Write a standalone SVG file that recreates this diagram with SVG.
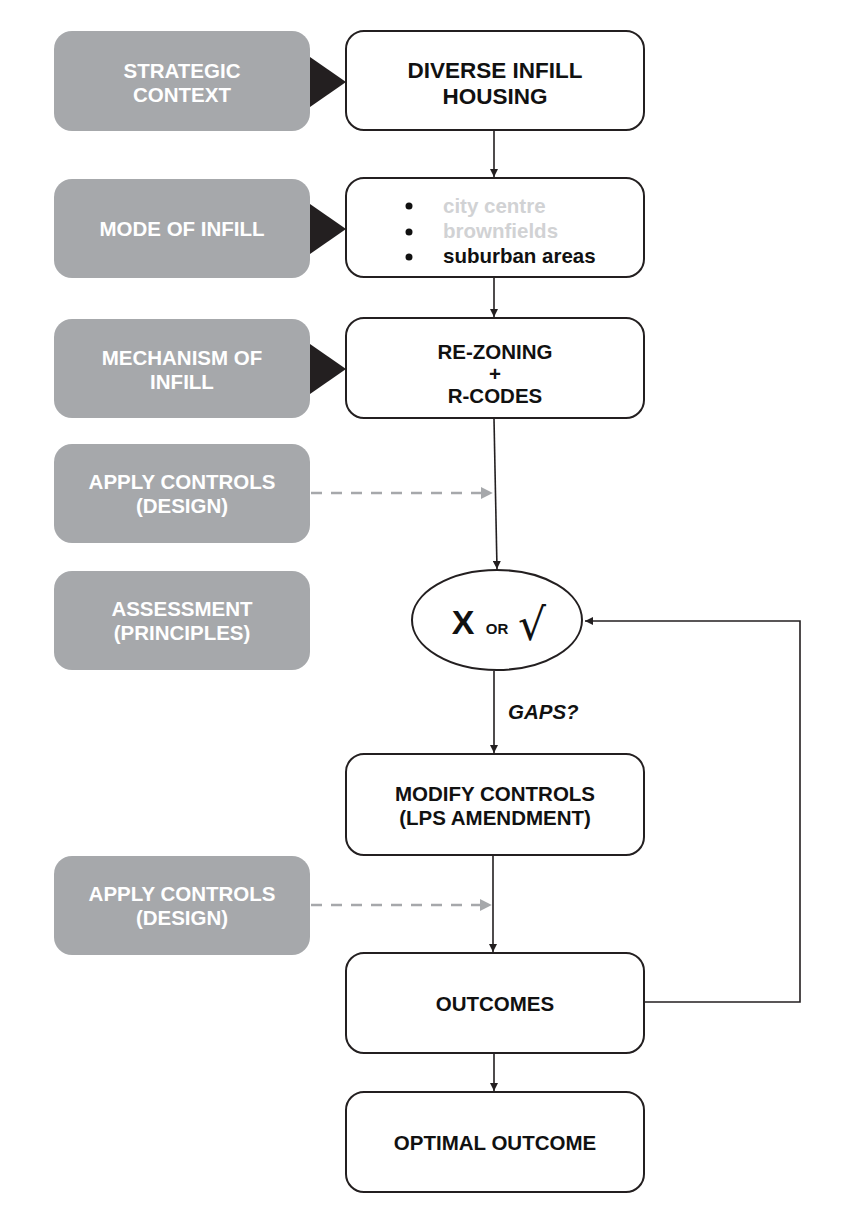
<svg xmlns="http://www.w3.org/2000/svg" width="857" height="1230" viewBox="0 0 857 1230">
<defs>
<style>
.g{fill:#a6a8ab;}
.w{fill:#fff;stroke:#231f20;stroke-width:2;}
.gt{font-family:"Liberation Sans",Arial,sans-serif;font-weight:bold;font-size:20.5px;fill:#fff;text-anchor:middle;}
.bt{font-family:"Liberation Sans",Arial,sans-serif;font-weight:bold;font-size:20.5px;fill:#111;text-anchor:middle;}
.lt{font-family:"Liberation Sans",Arial,sans-serif;font-weight:bold;font-size:20.5px;}
.ln{stroke:#231f20;stroke-width:1.6;fill:none;}
.ds{stroke:#a6a8ab;stroke-width:2.5;stroke-dasharray:11 9;fill:none;}
</style>
<marker id="ar" viewBox="0 0 10 10" refX="10" refY="5" markerWidth="8" markerHeight="8" markerUnits="userSpaceOnUse" orient="auto"><path d="M0,0 L10,5 L0,10 z" fill="#231f20"/></marker>
<marker id="ag" viewBox="0 0 10 10" refX="6" refY="5" markerWidth="12" markerHeight="12" markerUnits="userSpaceOnUse" orient="auto"><path d="M0,0 L10,5 L0,10 z" fill="#a6a8ab"/></marker>
</defs>
<rect width="857" height="1230" fill="#fff"/>

<g id="connectors">
<line class="ln" x1="494" y1="131" x2="494" y2="177" marker-end="url(#ar)"/>
<line class="ln" x1="494" y1="278" x2="494" y2="317" marker-end="url(#ar)"/>
<line class="ln" x1="494" y1="419" x2="497" y2="569" marker-end="url(#ar)"/>
<line class="ln" x1="494" y1="671" x2="494" y2="753" marker-end="url(#ar)"/>
<line class="ln" x1="493" y1="856" x2="493" y2="952" marker-end="url(#ar)"/>
<line class="ln" x1="494" y1="1054" x2="494" y2="1091" marker-end="url(#ar)"/>
<polyline class="ln" points="645,1002 800,1002 800,621 585,621" marker-end="url(#ar)"/>
<line class="ds" x1="311" y1="493" x2="488" y2="493" marker-end="url(#ag)"/>
<line class="ds" x1="311" y1="905" x2="487" y2="905" marker-end="url(#ag)"/>
<polygon points="310,57 346,82 310,107" fill="#231f20"/>
<polygon points="310,204 346,229 310,254" fill="#231f20"/>
<polygon points="310,344 346,369 310,394" fill="#231f20"/>
</g>

<g id="strategic-context">
<rect class="g" x="54" y="31" width="256" height="100" rx="18"/>
<text class="gt" x="182" y="78">STRATEGIC</text>
<text class="gt" x="182" y="102">CONTEXT</text>
</g>
<g id="mode-of-infill">
<rect class="g" x="54" y="179" width="256" height="99" rx="18"/>
<text class="gt" x="182" y="236">MODE OF INFILL</text>
</g>
<g id="mechanism-of-infill">
<rect class="g" x="54" y="319" width="256" height="99" rx="18"/>
<text class="gt" x="182" y="365">MECHANISM OF</text>
<text class="gt" x="182" y="389">INFILL</text>
</g>
<g id="apply-controls-1">
<rect class="g" x="54" y="444" width="256" height="99" rx="18"/>
<text class="gt" x="182" y="489">APPLY CONTROLS</text>
<text class="gt" x="182" y="513">(DESIGN)</text>
</g>
<g id="assessment">
<rect class="g" x="54" y="571" width="256" height="99" rx="18"/>
<text class="gt" x="182" y="616">ASSESSMENT</text>
<text class="gt" x="182" y="640">(PRINCIPLES)</text>
</g>
<g id="apply-controls-2">
<rect class="g" x="54" y="856" width="256" height="99" rx="18"/>
<text class="gt" x="182" y="901">APPLY CONTROLS</text>
<text class="gt" x="182" y="925">(DESIGN)</text>
</g>

<g id="diverse-infill-housing">
<rect class="w" x="346" y="31" width="298" height="99" rx="18"/>
<text class="bt" x="495" y="78" style="font-size:22.5px">DIVERSE INFILL</text>
<text class="bt" x="495" y="104" style="font-size:22.5px">HOUSING</text>
</g>
<g id="modes">
<rect class="w" x="346" y="178" width="298" height="99" rx="18"/>
<circle cx="409" cy="206" r="3.5" fill="#111"/>
<circle cx="409" cy="232" r="3.5" fill="#111"/>
<circle cx="409" cy="257" r="3.5" fill="#111"/>
<text class="lt" x="443" y="213" fill="#d1d2d4">city centre</text>
<text class="lt" x="443" y="238" fill="#d1d2d4">brownfields</text>
<text class="lt" x="443" y="263" fill="#111">suburban areas</text>
</g>
<g id="rezoning">
<rect class="w" x="346" y="318" width="298" height="100" rx="18"/>
<text class="bt" x="495" y="359">RE-ZONING</text>
<text class="bt" x="495" y="381">+</text>
<text class="bt" x="495" y="403">R-CODES</text>
</g>
<g id="decision">
<ellipse cx="497" cy="620" rx="85" ry="50" fill="#fff" stroke="#231f20" stroke-width="2"/>
<text x="463" y="634" style="font-family:'Liberation Sans',Arial,sans-serif;font-weight:bold;font-size:34px;fill:#111;text-anchor:middle">X</text>
<text x="497" y="634" style="font-family:'Liberation Sans',Arial,sans-serif;font-weight:bold;font-size:15px;fill:#111;text-anchor:middle">OR</text>
<text x="532" y="640" style="font-family:'DejaVu Sans',sans-serif;font-size:44px;fill:#111;text-anchor:middle">√</text>
</g>
<text x="508" y="719" style="font-family:'Liberation Sans',Arial,sans-serif;font-weight:bold;font-style:italic;font-size:20.5px;fill:#111">GAPS?</text>
<g id="modify-controls">
<rect class="w" x="346" y="754" width="298" height="101" rx="18"/>
<text class="bt" x="495" y="801">MODIFY CONTROLS</text>
<text class="bt" x="495" y="825">(LPS AMENDMENT)</text>
</g>
<g id="outcomes">
<rect class="w" x="346" y="953" width="298" height="100" rx="18"/>
<text class="bt" x="495" y="1011">OUTCOMES</text>
</g>
<g id="optimal-outcome">
<rect class="w" x="346" y="1092" width="298" height="100" rx="18"/>
<text class="bt" x="495" y="1150">OPTIMAL OUTCOME</text>
</g>
</svg>
